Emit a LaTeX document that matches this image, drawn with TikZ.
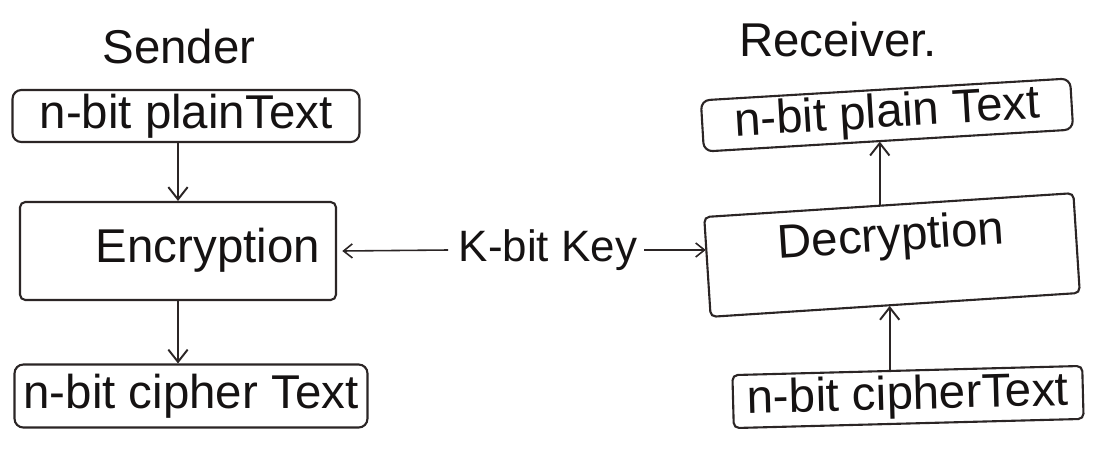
\documentclass[tikz,border=0pt]{standalone}
\usepackage{fontspec}
\setmainfont{Liberation Sans}
\usetikzlibrary{arrows.meta,calc}
\definecolor{ink}{HTML}{2B2525}
\definecolor{txt}{HTML}{151212}
\tikzset{
  pen/.style={draw=ink, line width=1.2pt},
  box/.style={pen, rectangle, rounded corners=5pt, inner sep=2pt, text=txt,
              font=\fontsize{27}{30}\selectfont},
  title/.style={text=txt, font=\fontsize{27}{30}\selectfont, inner sep=0pt},
  arr/.style={draw=ink, line width=1.1pt, -{Straight Barb[length=7pt,width=11pt]}},
  keyarr/.style={draw=ink, line width=0.9pt, -{Straight Barb[length=5pt,width=8pt]}}
}
\begin{document}
\begin{tikzpicture}[x=0.02cm,y=-0.02cm]
\useasboundingbox[fill=white] (0,0) rectangle (1096,450);

% headings
\node[title] (sender) at (179,47) {Sender};
\node[title] (receiver) at (838,40) {Receiver.};

% sender side
\node[box, minimum width=6.94cm, minimum height=1.04cm] (ptL) at (186,116) {n-bit plainText};
\node[box, rounded corners=3pt, minimum width=6.32cm, minimum height=1.96cm] (enc) at (178,251) {\raisebox{6pt}{\hspace{1.2cm}Encryption}};
\node[box, minimum width=7.06cm, minimum height=1.26cm] (ctL) at (191,396) {n-bit cipher Text};

% receiver side
\node[box, rotate=3.4, minimum width=7.4cm, minimum height=1.0cm] (ptR) at (887,115) {n-bit plain Text};
\node[box, rounded corners=3pt, rotate=3.7, minimum width=7.4cm, minimum height=2.0cm] (dec) at (892,255) {\raisebox{24pt}{Decryption}};
\node[box, rounded corners=3pt, rotate=1.5, minimum width=7.0cm, minimum height=1.06cm] (ctR) at (908,397) {n-bit cipherText};

% shared key
\node[title, font=\fontsize{25}{28}\selectfont] (key) at (548,250) {K-bit Key};

% flow
\draw[arr] (ptL.south -| enc.north) -- (enc.north);
\draw[arr] (enc.south) -- (enc.south |- ctL.north);
\coordinate (decTop) at ($(dec.north west)!0.476!(dec.north east)$);
\draw[arr] (decTop) -- (decTop |- ptR.south);
\coordinate (ctRTop) at ($(ctR.north west)!0.45!(ctR.north east)$);
\draw[arr] (ctRTop) -- (ctRTop |- dec.south);
\draw[keyarr] (key.west) ++(-6pt,0) -- ($(enc.east)+(3pt,0)$);
\coordinate (decIn) at ($(dec.north west)!0.4!(dec.south west)$);
\draw[keyarr] (key.east) ++(4pt,0) -- (key.east -| decIn);
\end{tikzpicture}
\end{document}
